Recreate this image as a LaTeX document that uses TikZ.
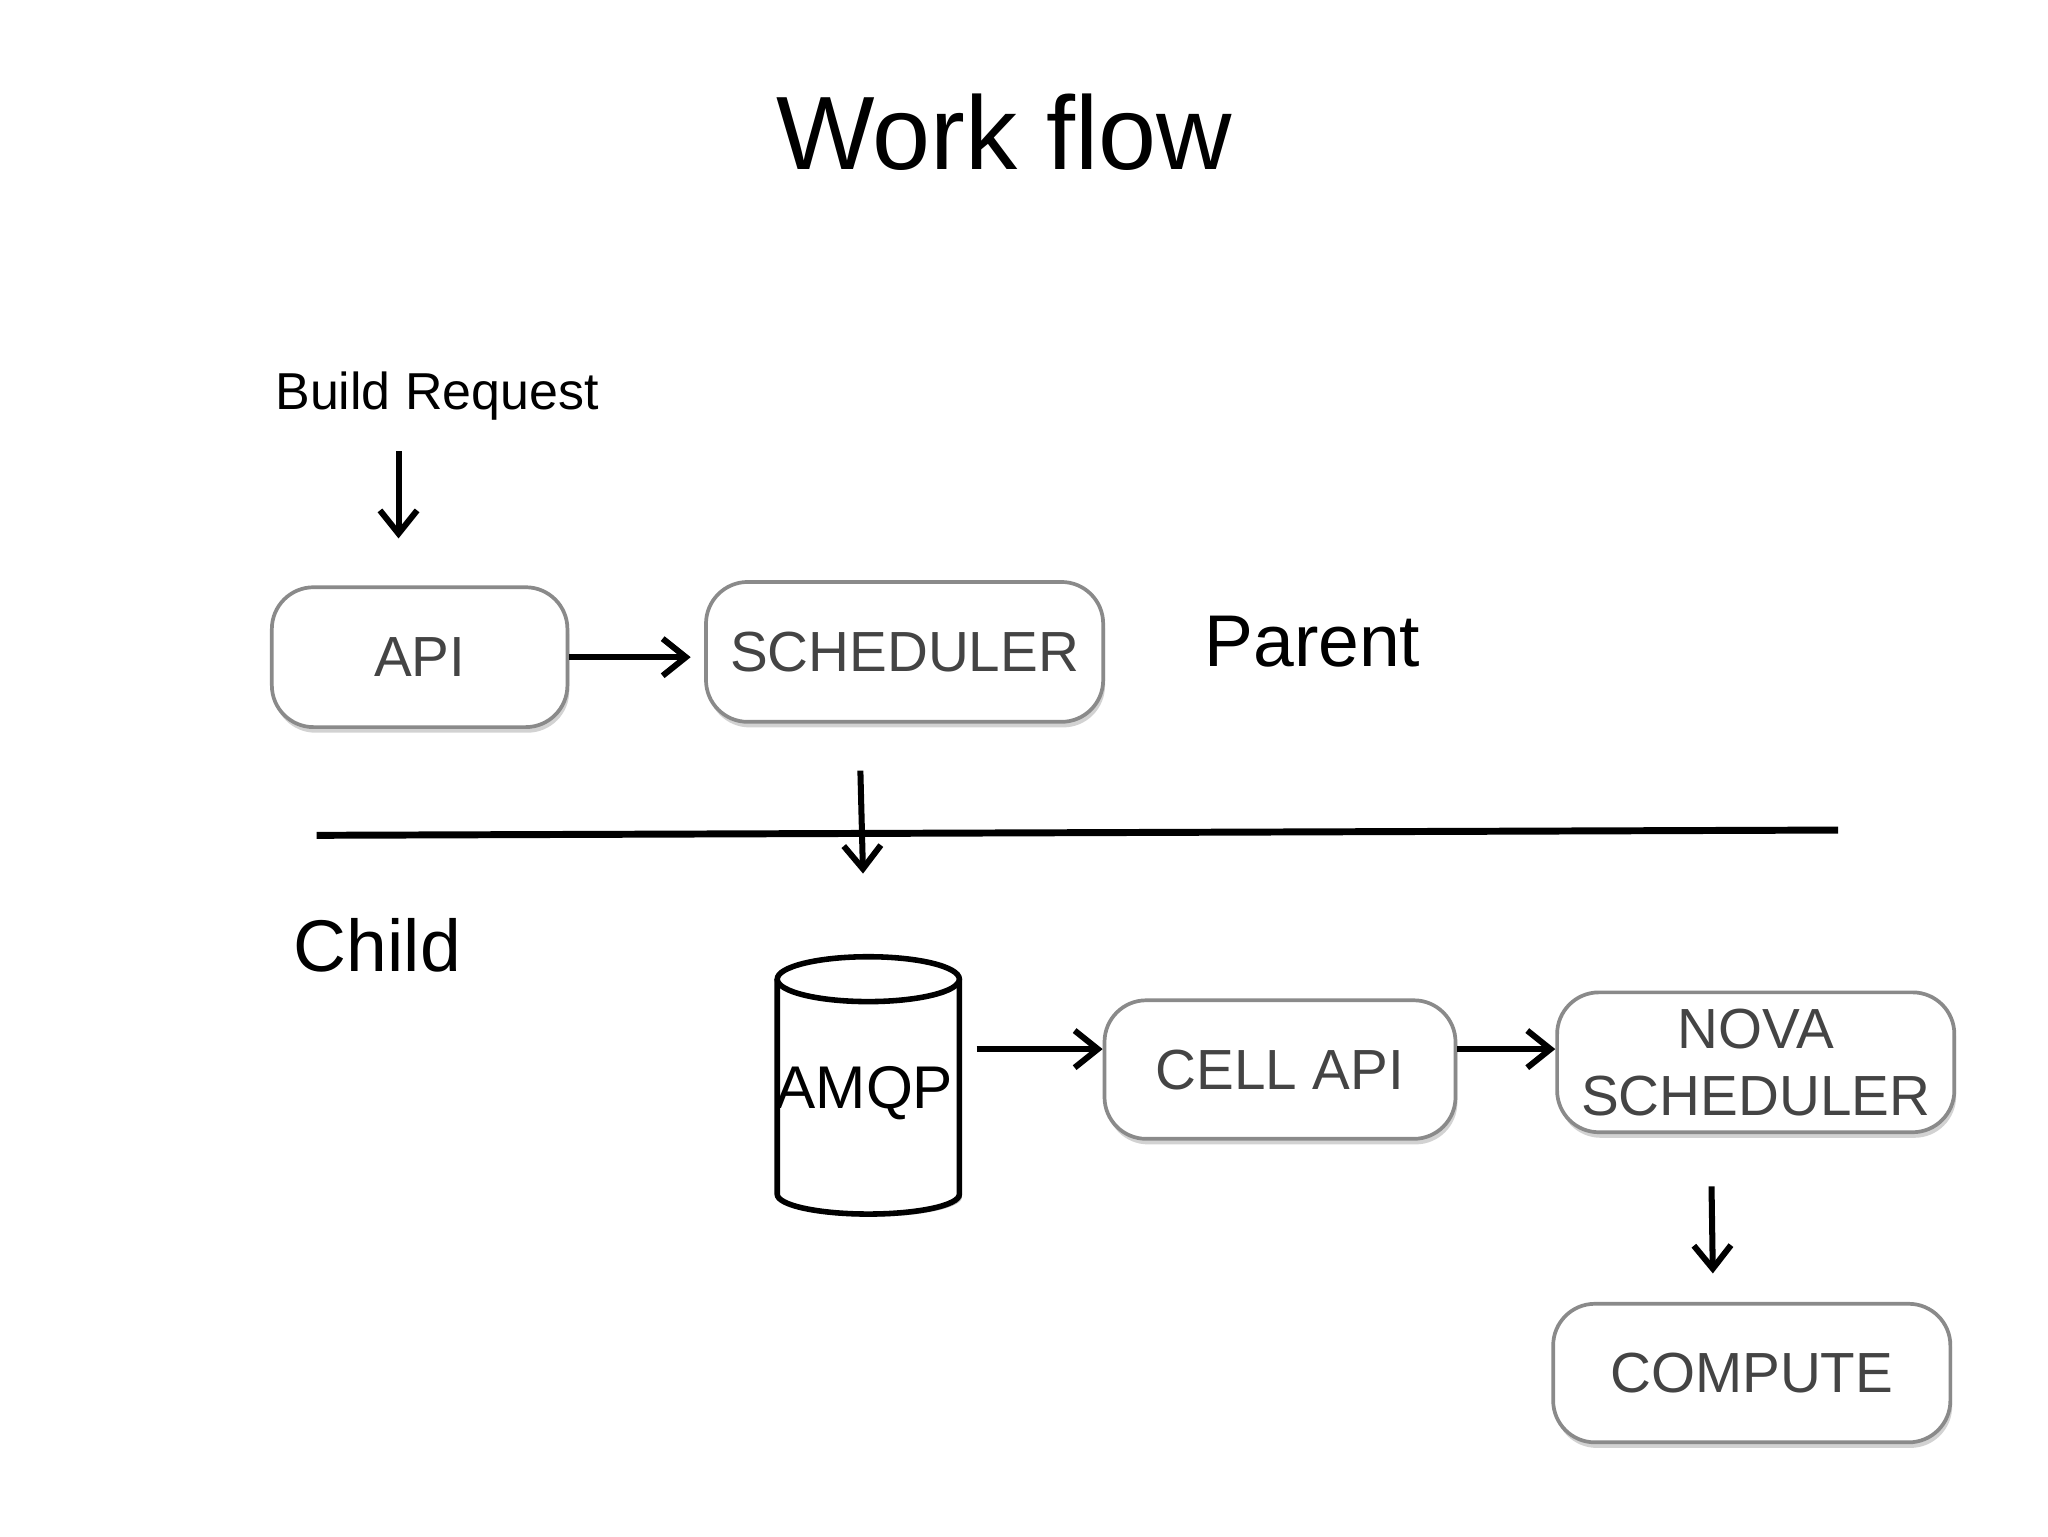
\documentclass[tikz,border=0pt]{standalone}
\usepackage{fontspec}
\setmainfont{Liberation Sans}
\usetikzlibrary{shadows,arrows.meta}
\definecolor{txt}{HTML}{444444}
\definecolor{bord}{HTML}{8A8A8A}
\tikzset{
 box/.style={draw=bord,line width=0.8pt,rounded corners=9pt,fill=white,
   drop shadow={shadow xshift=0.4pt,shadow yshift=-1.2pt,opacity=0.35},
   text=txt,font=\fontsize{12.2}{14.5}\selectfont,align=center,inner sep=0pt},
 arr/.style={-{Straight Barb[length=5pt,width=8pt]},line width=1.3pt},
 lbl/.style={inner sep=0pt,anchor=base west}
}
\begin{document}
\begin{tikzpicture}[x=0.1mm,y=-0.1mm]
\useasboundingbox[fill=white] (0,0) rectangle (1552,1164);
\node[font=\fontsize{22.5}{27}\selectfont] (title) at (761,100) {Work flow};
\node[lbl,font=\fontsize{11.2}{14}\selectfont] (br) at (208,310) {Build Request};
\node[lbl,font=\fontsize{15.8}{20}\selectfont] (parent) at (912,505) {Parent};
\node[lbl,font=\fontsize{15.8}{20}\selectfont] (child) at (222,736) {Child};
\node[box,minimum width=22.4mm,minimum height=10.6mm] (api) at (318,498) {API};
\node[box,minimum width=30.1mm,minimum height=10.6mm] (sch) at (685.5,494) {SCHEDULER};
\node[box,minimum width=26.6mm,minimum height=10.5mm] (cell) at (970,810.5) {CELL API};
\node[box,minimum width=30.1mm,minimum height=10.6mm] (nova) at (1330.5,805) {NOVA\\SCHEDULER};
\node[box,minimum width=30.1mm,minimum height=10.5mm] (comp) at (1327.5,1040.5) {COMPUTE};
% cylinder
\fill[black!30] (591,744) -- (591,907) arc[start angle=180,end angle=0,x radius=69,y radius=15] -- (729,744) -- cycle;
\draw[line width=1.2pt,fill=white] (589,742) -- (589,905) arc[start angle=180,end angle=0,x radius=69,y radius=15] -- (727,742);
\draw[line width=1.2pt,fill=white] (658,742) ellipse[x radius=69,y radius=17];
\node[font=\fontsize{13}{16}\selectfont,inner sep=0pt] (amqp) at (655,828) {AMQP};
% divider
\coordinate (l1) at (240,633); \coordinate (l2) at (1393,629);
\draw[line width=1.5pt] (l1) -- (l2);
% arrows
\coordinate (b0) at (302,342); \coordinate (b1) at (302,408);
\draw[arr] (b0) -- (b1);
\draw[arr] (api.east) -- ++(92,0);
\coordinate (s0) at (652,584); \coordinate (s1) at (654,662);
\draw[arr] (s0) -- (s1);
\coordinate (q0) at (740,795);
\draw[arr] (q0) -- (cell.west |- q0);
\draw[arr] (cell.east |- q0) -- (nova.west |- q0);
\coordinate (n0) at (1297,899); \coordinate (n1) at (1298,965);
\draw[arr] (n0) -- (n1);
\end{tikzpicture}
\end{document}
